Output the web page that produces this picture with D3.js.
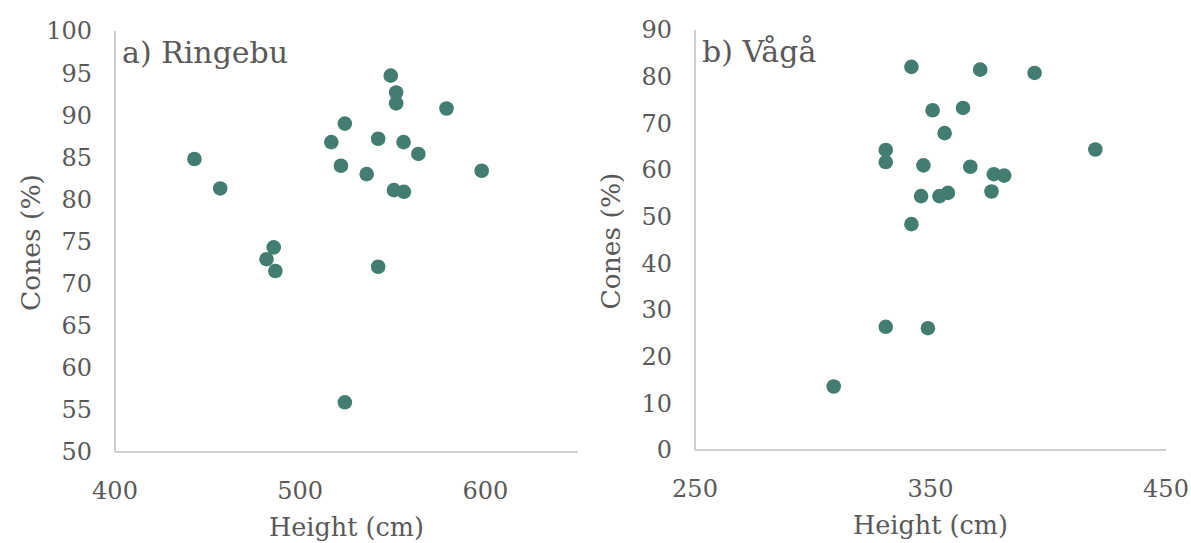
<!DOCTYPE html>
<html><head><meta charset="utf-8">
<script src="https://cdn.jsdelivr.net/npm/d3@7"></script>
<style>
body{margin:0;background:#fff;}
text{font-family:"DejaVu Serif",Georgia,serif;fill:#595959;}
</style></head>
<body><svg id="c" width="1191" height="543"></svg>
<script>
// Panel a) Ringebu
const ringebuHeight = [442.9,456.8,485.7,481.8,486.6,542.1,524.1,548.9,551.8,551.8,579,524.1,516.8,542.1,555.8,563.8,522,535.9,598,550.6,556];
const ringebuCones  = [84.8,81.3,74.3,72.9,71.5,72,55.9,94.7,92.7,91.4,90.8,89,86.8,87.2,86.8,85.4,84,83,83.4,81.1,80.9];
// Panel b) Vågå
const vagaHeight = [308.9,331,348.9,331,331,341.9,371.1,394.2,350.9,363.8,356,347,366.9,376.9,381.3,420,346,353.8,357.4,375.9,341.9];
const vagaCones  = [13.6,26.4,26.1,64.3,61.7,82.1,81.5,80.8,72.8,73.3,67.9,61,60.7,59.1,58.8,64.4,54.4,54.4,55.1,55.4,48.4];
const ringebuXTicks = [400,500,600];
const ringebuYTicks = [50,55,60,65,70,75,80,85,90,95,100];
const vagaXTicks = [250,350,450];
const vagaYTicks = [0,10,20,30,40,50,60,70,80,90];

const svg = d3.select("#c");
const dotColor = "#437D71";
const axisColor = "#BFBFBF";

function panel(o){
  const g = svg.append("g");
  const x = d3.scaleLinear().domain(o.xDomain).range([o.left,o.right]);
  const y = d3.scaleLinear().domain(o.yDomain).range([o.bottom,o.top]);
  g.append("line").attr("x1",o.left).attr("x2",o.left).attr("y1",o.top).attr("y2",o.bottom)
    .attr("stroke",axisColor).attr("stroke-width",1.5);
  g.append("line").attr("x1",o.left).attr("x2",o.right).attr("y1",o.bottom).attr("y2",o.bottom)
    .attr("stroke",axisColor).attr("stroke-width",1.5);
  g.selectAll(".yt").data(o.yTicks).join("text")
    .attr("x",o.left-23).attr("y",d=>y(d)).attr("dy","0.35em")
    .attr("text-anchor","end").attr("font-size",24).text(d=>d);
  g.selectAll(".xt").data(o.xTicks).join("text")
    .attr("x",d=>x(d)).attr("y",o.bottom+47)
    .attr("text-anchor","middle").attr("font-size",24).text(d=>d);
  g.append("text").attr("x",(o.left+o.right)/2).attr("y",o.bottom+84)
    .attr("text-anchor","middle").attr("font-size",25.5).text("Height (cm)");
  g.append("text").attr("transform",`translate(${o.left-75},${(o.top+o.bottom)/2+1}) rotate(-90)`)
    .attr("text-anchor","middle").attr("font-size",26.5).text("Cones (%)");
  g.append("text").attr("x",o.left+7).attr("y",o.top+32).attr("font-size",30).text(o.label);
  g.selectAll("circle").data(o.xs.map((v,i)=>[v,o.ys[i]])).join("circle")
    .attr("cx",d=>x(d[0])).attr("cy",d=>y(d[1])).attr("r",7.3).attr("fill",dotColor);
}

panel({xDomain:[400,650],yDomain:[50,100],left:115,right:578,top:31,bottom:452,
  xTicks:ringebuXTicks,yTicks:ringebuYTicks,xs:ringebuHeight,ys:ringebuCones,label:"a) Ringebu"});
panel({xDomain:[250,450],yDomain:[0,90],left:695,right:1166,top:30,bottom:450,
  xTicks:vagaXTicks,yTicks:vagaYTicks,xs:vagaHeight,ys:vagaCones,label:"b) Vågå"});
</script></body></html>
